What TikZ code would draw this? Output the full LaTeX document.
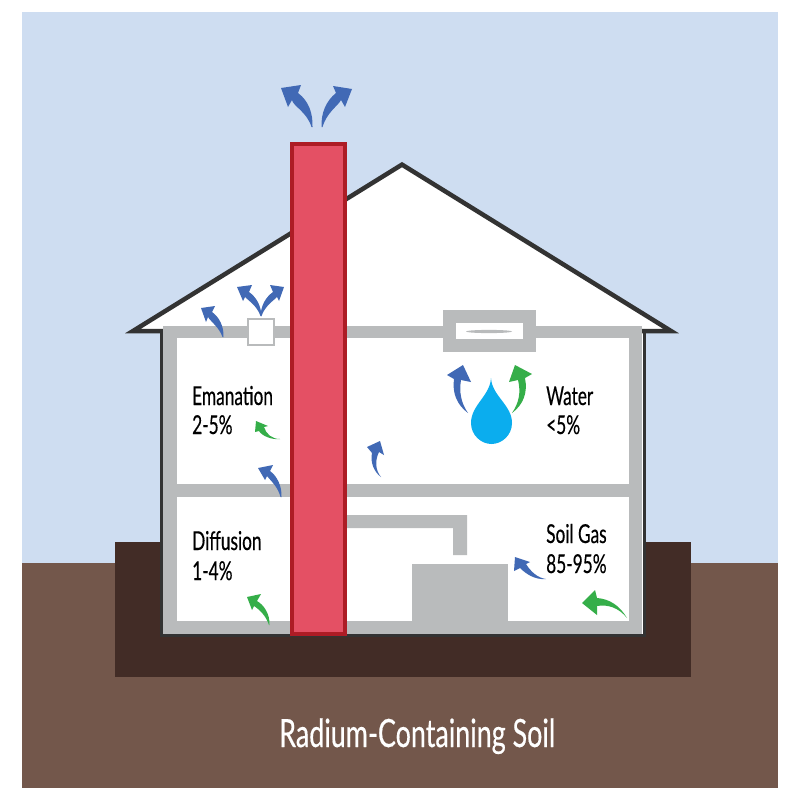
\documentclass[tikz,border=0pt]{standalone}
\usepackage{fontspec}
\setmainfont{Lato}[FakeStretch=0.665,FakeBold=0.35]
\newfontfamily\soilfont{Lato}[FakeStretch=0.69,FakeBold=0.35]
\definecolor{sky}{HTML}{CEDDF1}
\definecolor{soil}{HTML}{73574B}
\definecolor{footing}{HTML}{422C26}
\definecolor{wall}{HTML}{B9BBBC}
\definecolor{outline}{HTML}{333333}
\definecolor{flowblue}{HTML}{4169B5}
\definecolor{flowgreen}{HTML}{35AE49}
\definecolor{droplet}{HTML}{0BADEE}
\definecolor{stackfill}{HTML}{E45064}
\definecolor{stackedge}{HTML}{AD1C25}
\tikzset{
  blueflow/.style={fill=flowblue},
  greenflow/.style={fill=flowgreen},
  wallpart/.style={fill=wall},
  label/.style={anchor=base west,inner sep=0pt,font=\fontsize{26}{26}\selectfont,text=black},
}
\begin{document}
\begin{tikzpicture}[x=1pt,y=-1pt]
\useasboundingbox (0,0) rectangle (800,800);
\fill[white] (0,0) rectangle (800,800);
% sky and ground
\fill[sky] (22,12) rectangle (778,563);
\fill[soil] (22,563) rectangle (778,788);
\fill[footing] (115,542) rectangle (691,677);
% house body and roof
\fill[white] (133,331) -- (402,164.6) -- (671,331) -- (643,331) -- (643,635) -- (162,635) -- (162,331) -- cycle;
\draw[outline,line width=4.5pt,miter limit=10] (163,331) -- (133,331) -- (402,164.6) -- (671,331) -- (642,331);
\draw[outline,line width=3pt] (161.5,331) -- (161.5,635.5) -- (644,635.5) -- (644,331);
% walls and floors
\fill[wallpart] (163,326) rectangle (642,338);
\fill[wallpart] (163,326) rectangle (177,634);
\fill[wallpart] (629,326) rectangle (642,634);
\fill[wallpart] (163,484) rectangle (642,497);
\fill[wallpart] (163,621) rectangle (642,634);
% furnace and duct
\fill[wallpart] (412,564) rectangle (508,621);
\fill[wallpart] (340,515) -- (467,515) -- (467,555) -- (453,555) -- (453,528) -- (340,528) -- cycle;
% water heater vent
\fill[wallpart] (443,310) rectangle (536,352);
\fill[white] (456,323) rectangle (523,339);
\fill[wall] (489,331.5) ellipse [x radius=23,y radius=1.6];
% attic vent box
\draw[wall,fill=white,line width=2pt] (248,319) rectangle (274,345);
% chimney
\draw[stackedge,fill=stackfill,line width=4pt] (292,144) rectangle (345,634);
% water drop
\fill[droplet] (491,378) .. controls (492,396) and (512,405) .. (512,423) .. controls (512,435) and (502,444) .. (491.5,444) .. controls (481,444) and (471,435) .. (471,423) .. controls (471,405) and (490,396) .. (491,378) -- cycle;
% air flow above the chimney
\fill[blueflow] (312.5,127) .. controls (313,114) and (309,101) .. (298,93) -- (301,85) -- (281,88) -- (288,107) -- (292,100) .. controls (293,106) and (307,112) .. (311.5,127) -- cycle;
\fill[blueflow] (321.5,127) .. controls (321,113) and (326,101) .. (336,93) -- (333,86) -- (352,89) -- (345,107) -- (341,100) .. controls (338,106) and (327,112) .. (322.5,127) -- cycle;
% attic flows
\fill[blueflow] (223.5,337) .. controls (224,326) and (219,317) .. (212,312) -- (215,306) -- (201,308) -- (206,322) -- (208,317) .. controls (211,322) and (219,327) .. (222.5,337) -- cycle;
\fill[blueflow] (261.5,316) .. controls (261,305) and (256,297) .. (249,292) -- (252,285) -- (237,287) -- (243,301) -- (245,297) .. controls (249,301) and (257,306) .. (260.5,316) -- cycle;
\fill[blueflow] (260.5,316) .. controls (261,305) and (266,297) .. (273,292) -- (270,285) -- (284,287) -- (279,301) -- (277,297) .. controls (273,301) and (265,306) .. (261.5,316) -- cycle;
% emanation flows
\fill[greenflow] (280,439) .. controls (272,439) and (266,434) .. (264,427) -- (268,426) -- (256,421) -- (255,432) -- (259,431) .. controls (262,436) and (272,440) .. (280,439) -- cycle;
\fill[blueflow] (281.5,497) .. controls (282,486) and (277,476) .. (270,471) -- (273,465) -- (258,468) -- (265,480) -- (267,476) .. controls (271,481) and (278,487) .. (280.5,497) -- cycle;
\fill[blueflow] (381,477) .. controls (374,472) and (370,462) .. (372,453) -- (367,447) -- (380,441) -- (384,455) -- (379,452) .. controls (375,460) and (375,470) .. (381,477) -- cycle;
% water flows
\fill[blueflow] (468,413) .. controls (457,405) and (452,393) .. (454,379) -- (447,375) -- (463,365) -- (471,382) -- (461,380) .. controls (459,392) and (461,403) .. (468,413) -- cycle;
\fill[greenflow] (512,413) .. controls (523,405) and (528,393) .. (525,378) -- (532,374) -- (515,365) -- (509,382) -- (518,380) .. controls (521,392) and (519,403) .. (512,413) -- cycle;
% crawl space flows
\fill[greenflow] (269.5,625) .. controls (270,614) and (264,605) .. (257,601) -- (261,594) -- (247,597) -- (252,610) -- (254,606) .. controls (260,610) and (266,616) .. (269,625) -- cycle;
\fill[blueflow] (546,579) .. controls (538,578) and (531,572) .. (526,564) -- (530,562) -- (515,557) -- (514,571) -- (520,568) .. controls (526,574) and (535,580) .. (546,579) -- cycle;
\fill[greenflow] (627,618) .. controls (620,606) and (610,599) .. (597,598) -- (595,590) -- (582,603) -- (597,615) -- (597,606) .. controls (608,604) and (619,608) .. (627,618) -- cycle;
% labels
\node[label] (emanation) at (192,405) {Emanation};
\node[label] (emanationpct) at (192,434) {2-5\%};
\node[label] (water) at (546,405) {Water};
\node[label] (waterpct) at (546,434) {<5\%};
\node[label] (diffusion) at (192,550) {Diffusion};
\node[label] (diffusionpct) at (192,580) {1-4\%};
\node[label] (soilgas) at (546,543) {Soil Gas};
\node[label] (soilgaspct) at (546,573) {85-95\%};
\node[label,text=white,font=\soilfont\fontsize{39}{39}\selectfont] (soil) at (279,747) {Radium-Containing Soil};
\end{tikzpicture}
\end{document}
